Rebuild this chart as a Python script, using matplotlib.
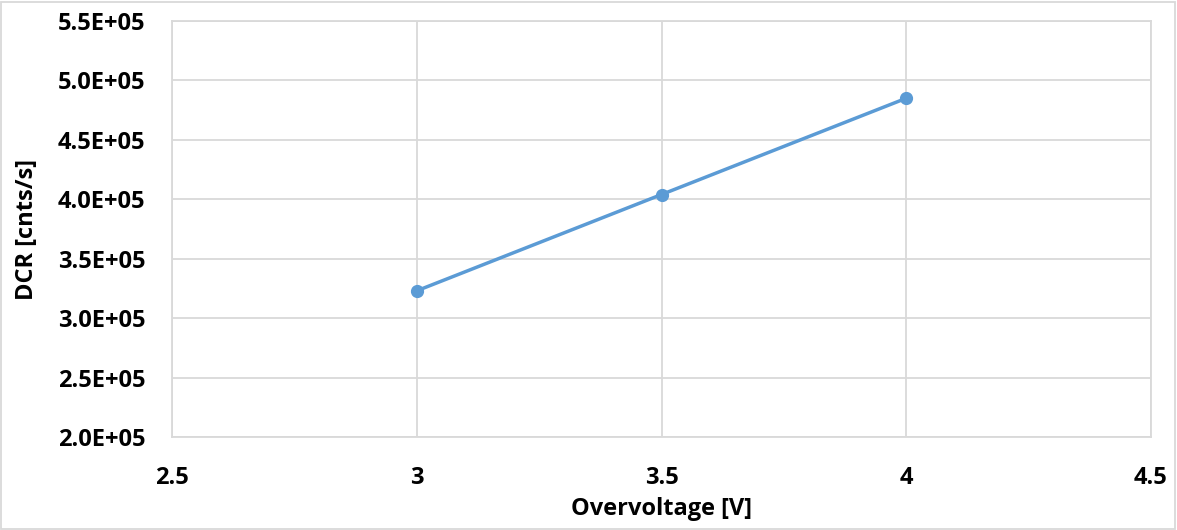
import matplotlib
matplotlib.use("Agg")
import matplotlib.pyplot as plt
from matplotlib.ticker import FuncFormatter, MultipleLocator

overvoltage = [3.0, 3.5, 4.0]
dcr = [3.23e5, 4.04e5, 4.85e5]

plt.rcParams['font.family'] = ['Open Sans', 'DejaVu Sans']
plt.rcParams['font.weight'] = 'bold'
plt.rcParams['axes.labelweight'] = 'bold'

fig = plt.figure(figsize=(11.77, 5.30), dpi=100)
ax = fig.add_axes([172/1177, 1 - 437/530, (1151-172)/1177, (437-21)/530])

ax.plot(overvoltage, dcr, color='#5B9BD5', lw=2.5, marker='o', ms=8.5, zorder=3)

ax.set_xlim(2.5, 4.5)
ax.set_ylim(2.0e5, 5.5e5)
ax.xaxis.set_major_locator(MultipleLocator(0.5))
ax.yaxis.set_major_locator(MultipleLocator(0.5e5))

def xfmt(v, p):
    return f"{v:g}"
def yfmt(v, p):
    return f"{v/1e5:.1f}E+05"
ax.xaxis.set_major_formatter(FuncFormatter(xfmt))
ax.yaxis.set_major_formatter(FuncFormatter(yfmt))

ax.grid(True, color='#d9d9d9', lw=1.3)
ax.set_axisbelow(True)
for s in ax.spines.values():
    s.set_color('#d9d9d9')
    s.set_linewidth(1.3)
ax.tick_params(length=0, labelsize=17, colors='#000000')
ax.tick_params(axis='x', pad=21)
ax.tick_params(axis='y', pad=19)

ax.set_xlabel('Overvoltage [V]', fontsize=17, labelpad=5)
ax.set_ylabel('DCR [cnts/s]', fontsize=17, labelpad=14)

fig.patches.append(plt.Rectangle((0.001, 0.002), 0.997, 0.995, transform=fig.transFigure,
                                 fill=False, edgecolor='#d9d9d9', lw=1.3))

fig.savefig('out.png', dpi=100)
